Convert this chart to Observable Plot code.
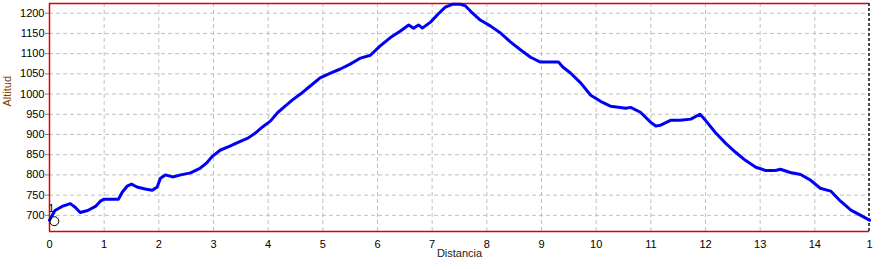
<!DOCTYPE html>
<html>
<head>
<meta charset="utf-8">
<script src="https://cdn.jsdelivr.net/npm/d3@7"></script>
<script src="https://cdn.jsdelivr.net/npm/@observablehq/plot@0.6"></script>
<style>
  html, body { margin: 0; padding: 0; background: #fff; }
  svg { display: block; }
</style>
</head>
<body>
<div id="chart"></div>
<script>
const dist = [0, 0.1, 0.23, 0.38, 0.47, 0.56, 0.7, 0.84, 0.93, 1.0, 1.26, 1.33, 1.42, 1.5, 1.6, 1.75, 1.88, 1.97, 2.03, 2.12, 2.25, 2.4, 2.58, 2.76, 2.87, 2.98, 3.12, 3.3, 3.49, 3.63, 3.76, 3.89, 4.04, 4.18, 4.31, 4.44, 4.59, 4.77, 4.95, 5.14, 5.32, 5.5, 5.69, 5.87, 6.05, 6.23, 6.42, 6.57, 6.66, 6.75, 6.82, 6.97, 7.11, 7.24, 7.37, 7.52, 7.61, 7.74, 7.88, 8.07, 8.25, 8.43, 8.62, 8.8, 8.98, 9.17, 9.31, 9.39, 9.53, 9.72, 9.9, 10.08, 10.26, 10.44, 10.54, 10.63, 10.81, 11.0, 11.09, 11.18, 11.36, 11.54, 11.73, 11.9, 12.0, 12.18, 12.37, 12.55, 12.73, 12.92, 13.1, 13.28, 13.37, 13.55, 13.74, 13.92, 14.1, 14.29, 14.47, 14.66, 14.84, 15.0];
const alt = [688, 712, 722, 729, 720, 707, 712, 722, 735, 740, 740, 757, 772, 777, 770, 765, 762, 770, 792, 800, 795, 800, 805, 817, 829, 846, 861, 871, 883, 891, 903, 918, 933, 955, 970, 985, 1000, 1020, 1040, 1052, 1062, 1074, 1089, 1096, 1119, 1139, 1156, 1171, 1163, 1171, 1163, 1178, 1198, 1215, 1222, 1222, 1218, 1200, 1183, 1168, 1151, 1129, 1109, 1091, 1079, 1079, 1079, 1067, 1052, 1027, 997, 982, 970, 967, 965, 967, 955, 930, 921, 923, 935, 935, 938, 950, 935, 905, 878, 856, 836, 819, 811, 811, 814, 806, 801, 787, 767, 760, 735, 713, 700, 688];

const yTicks = [700, 750, 800, 850, 900, 950, 1000, 1050, 1100, 1150, 1200];
const xTicks = [0, 1, 2, 3, 4, 5, 6, 7, 8, 9, 10, 11, 12, 13, 14, 15];
const xTickLabels = ["0", "1", "2", "3", "4", "5", "6", "7", "8", "9", "10", "11", "12", "13", "14", "1"];
const xDomain = [0, 15];
const yDomain = [660, 1224];
const markerDist = [0.07];
const markerAlt = [688];
const markerLabel = ["1"];
const yTitle = ["Altitud"];
const xTitle = ["Distancia"];

const data = dist.map((d, i) => ({d, a: alt[i]}));
const markers = markerDist.map((d, i) => ({d, a: markerAlt[i], t: markerLabel[i]}));

const chart = Plot.plot({
  width: 885,
  height: 269,
  marginLeft: 49,
  marginRight: 16,
  marginTop: 3,
  marginBottom: 38,
  style: {fontFamily: "'Liberation Sans', Arial, sans-serif", fontSize: "11px", color: "#000", background: "#fff"},
  x: {domain: xDomain},
  y: {domain: yDomain},
  marks: [
    Plot.gridY(yTicks, {stroke: "#c0c0c0", strokeOpacity: 1, strokeDasharray: "4,3"}),
    Plot.gridX(xTicks.slice(1, -1), {stroke: "#c0c0c0", strokeOpacity: 1, strokeDasharray: "4,3"}),
    Plot.axisY(yTicks, {tickSize: 4, tickPadding: 1, label: null, stroke: "#808080", fill: "#000", tickFormat: d => String(d)}),
    Plot.axisX(xTicks, {tickSize: 0, tickPadding: 9, label: null, tickFormat: (d, i) => xTickLabels[i], fill: "#000"}),
    Plot.ruleX([xDomain[0]], {stroke: "#dd0000", strokeWidth: 1.5}),
    Plot.ruleY([yDomain[1]], {stroke: "#dd0000", strokeWidth: 1.5}),
    Plot.ruleY([yDomain[0]], {stroke: "#dd0000", strokeWidth: 1.5}),
    Plot.ruleX([xDomain[1]], {stroke: "#111111", strokeDasharray: "3,2", strokeWidth: 1.5, dx: -0.5}),
    Plot.line(data, {x: "d", y: "a", stroke: "#0000ff", strokeWidth: 3, curve: "linear"}),
    Plot.line(data, {x: "d", y: "a", stroke: "#000033", strokeWidth: 0.6, strokeDasharray: "2,9", curve: "linear"}),
    Plot.dot(markers, {x: "d", y: "a", r: 4.5, dx: 1, dy: 1, stroke: "#000", strokeWidth: 1, fill: "none"}),
    Plot.text(markers, {x: "d", y: "a", text: "t", dx: -2, dy: -12, fill: "#000", fontSize: 11}),
    Plot.text(yTitle, {frameAnchor: "left", text: d => d, rotate: -90, dx: -42, dy: -11, fill: "#804000", fontSize: 11}),
    Plot.text(xTitle, {frameAnchor: "bottom", text: d => d, dy: 25, fill: "#222", fontSize: 11})
  ]
});
document.getElementById("chart").appendChild(chart);
</script>
</body>
</html>
